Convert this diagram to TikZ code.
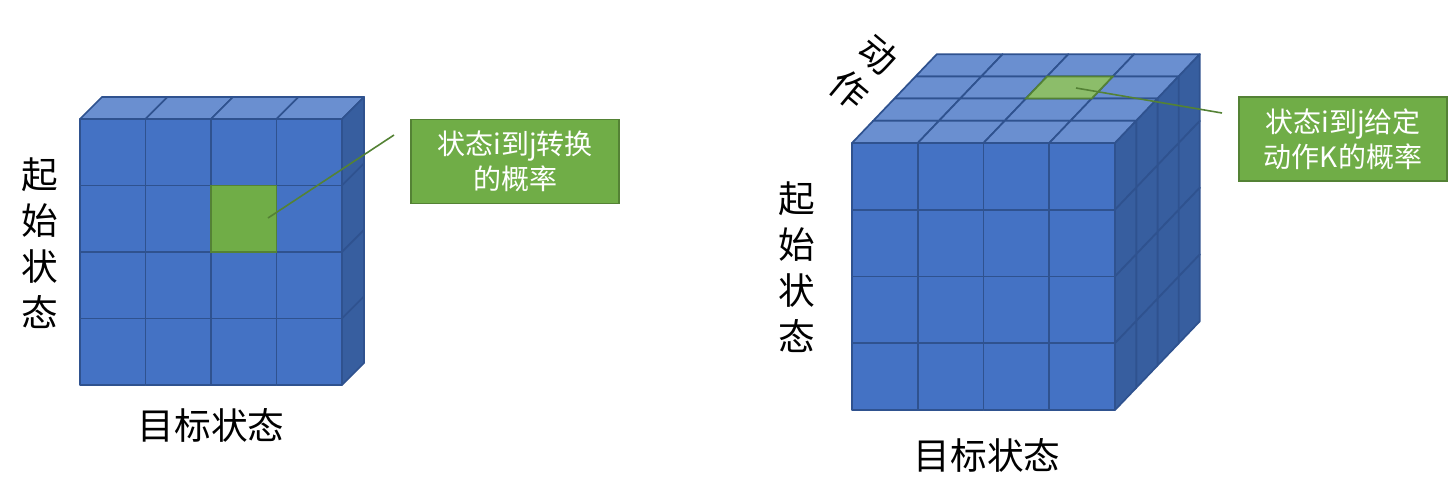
\documentclass[tikz,border=0pt]{standalone}
\usepackage{fontspec}
\setmainfont{Noto Sans CJK SC}
\usepackage{tikz}
\usetikzlibrary{positioning}
\definecolor{cubefront}{HTML}{4472C4}
\definecolor{cubetop}{HTML}{6A8FD0}
\definecolor{cubeside}{HTML}{375E9F}
\definecolor{cubeline}{HTML}{2F528F}
\definecolor{pickfill}{HTML}{70AD47}
\definecolor{picktop}{HTML}{8CBD6A}
\definecolor{pickline}{HTML}{548235}
\tikzset{
  frontcell/.style ={fill=cubefront, draw=cubeline, line width=1.3pt, line join=round},
  topcell/.style   ={fill=cubetop, draw=cubeline, line width=1.3pt, line join=round},
  sidecell/.style  ={fill=cubeside, draw=cubeline, line width=1.3pt, line join=round},
  pickcell/.style  ={fill=pickfill, draw=pickline, line width=1.3pt},
  picktopcell/.style={fill=picktop, draw=pickline, line width=1.3pt},
  note/.style      ={draw=pickline, fill=pickfill, line width=1.2pt, text=white,
                     minimum width=156pt, minimum height=63pt, align=center,
                     font=\fontsize{21}{26.5}\selectfont},
  pointer/.style   ={draw=pickline, line width=1.2pt},
  axislbl/.style   ={font=\fontsize{27.5}{34.5}\selectfont, align=center, inner sep=0pt},
}
% one slab of 4x4 cubes: x0, y0, cell width, cell height, dx, dy
\newcommand{\cubeslab}[6]{%
  \foreach \r in {0,...,3}{
    \foreach \c in {0,...,3}{
      \draw[frontcell] ({#1+\c*#3},{#2+\r*#4}) rectangle ++(#3,#4);
    }
  }
  \foreach \c in {0,...,3}{
    \draw[topcell] ({#1+\c*#3},#2) -- ++(#3,0) -- ++(#5,#6) -- ++(-#3,0) -- cycle;
  }
  \foreach \r in {0,...,3}{
    \draw[sidecell] ({#1+4*#3},{#2+\r*#4}) -- ++(#5,#6) -- ++(0,#4) -- ++(-#5,-#6) -- cycle;
  }
}

\begin{document}
\begin{tikzpicture}[x=0.75pt, y=-0.75pt]
  \useasboundingbox (0,0) rectangle (1448,501);

  % left: two-dimensional matrix
  \cubeslab{80}{119}{65.5}{66.5}{22}{-22}
  \draw[pickcell] (211,185.5) rectangle ++(65.5,66.5);
  \node[axislbl] (lstart) at (40,243) {起\\始\\状\\态};
  \node[axislbl] (ltarget) at (211,425) {目标状态};
  \node[note] (lnote) at (515,161.5) {状态i到j转换\\的概率};
  \coordinate (lpick) at (268,218);
  \coordinate (lend) at (394,135);
  \draw[pointer] (lend) -- (lpick);

  % right: three-dimensional tensor
  \foreach \k in {3,2,1,0}{
    \pgfmathsetmacro{\ox}{852+\k*21.2}
    \pgfmathsetmacro{\oy}{143-\k*22.2}
    \cubeslab{\ox}{\oy}{65.75}{66.75}{21.2}{-22.2}
  }
  \draw[picktopcell] ({852+2*65.75+2*21.2},{143-2*22.2}) -- ++(65.75,0)
    -- ++(21.2,-22.2) -- ++(-65.75,0) -- cycle;
  \node[axislbl] (rstart) at (797,267) {起\\始\\状\\态};
  \node[axislbl] (rtarget) at (987,455) {目标状态};
  \node[axislbl, rotate=-40] (raction) at (864,72) {动\\作};
  \node[note] (rnote) at (1343,139) {状态i到j给定\\动作K的概率};
  \coordinate (rpick) at (1076,88);
  \coordinate (rend) at (1222,113);
  \draw[pointer] (rend) -- (rpick);
\end{tikzpicture}
\end{document}
